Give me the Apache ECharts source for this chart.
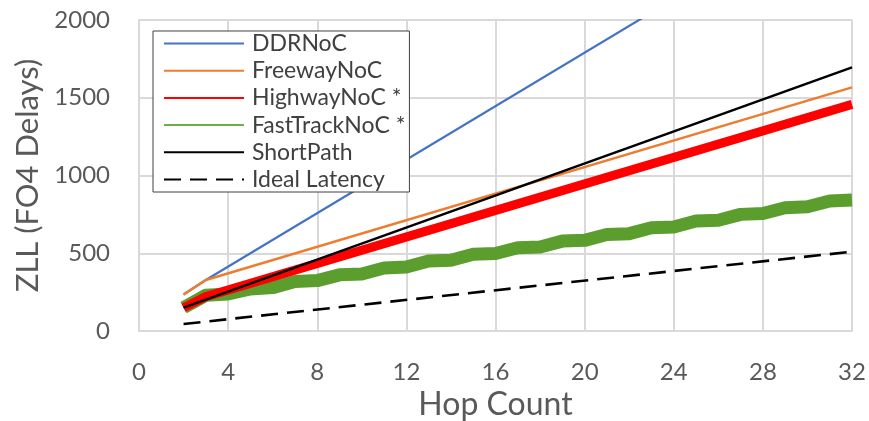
<!DOCTYPE html>
<html>
<head>
<meta charset="utf-8">
<script src="https://cdn.jsdelivr.net/npm/echarts@6/dist/echarts.min.js"></script>
<style>
html,body{margin:0;padding:0;background:#fff;}
#chart{width:869px;height:421px;}
</style>
</head>
<body>
<div id="chart"></div>
<script>
// ---- data ----
var seriesNames = ['DDRNoC', 'FreewayNoC', 'HighwayNoC *', 'FastTrackNoC *', 'ShortPath', 'Ideal Latency'];

var ddrHops = [2, 3, 32];
var ddrZLL = [235, 328, 2822];

var freewayHops = [2, 3, 32];
var freewayZLL = [235, 328, 1567];

var highwayHops = [2, 3, 32];
var highwayZLL = [150, 221, 1457];

var fastTrackHops = [2, 3, 4, 5, 6, 7, 8, 9, 10, 11, 12, 13, 14, 15, 16, 17, 18, 19, 20, 21, 22, 23, 24, 25, 26, 27, 28, 29, 30, 31, 32];
var fastTrackZLL = [150, 230, 238, 270, 279, 318, 324, 361, 367, 405, 411, 450, 455, 493, 498, 535, 540, 578, 583, 621, 626, 664, 669, 707, 712, 750, 756, 793, 799, 836, 842];

var shortPathHops = [2, 32];
var shortPathZLL = [150, 1695];

var idealHops = [2, 32];
var idealZLL = [45, 510];

var xTicks = [0, 4, 8, 12, 16, 20, 24, 28, 32];
var yTicks = [0, 500, 1000, 1500, 2000];

function pairs(h, v) { return h.map(function (x, i) { return [x, v[i]]; }); }

var FONT = 'Lato, "Open Sans", sans-serif';
var chart = echarts.init(document.getElementById('chart'));

var gridColor = '#d9d9d9';

chart.setOption({
  animation: false,
  backgroundColor: '#ffffff',
  grid: { left: 139, right: 17, top: 20, bottom: 90, containLabel: false, outerBoundsMode: 'none' },
  xAxis: {
    type: 'value',
    min: xTicks[0], max: xTicks[xTicks.length - 1], interval: 4,
    name: 'Hop Count', nameLocation: 'middle', nameGap: 53,
    nameTextStyle: { fontFamily: FONT, fontSize: 32, color: '#595959' },
    axisLine: { show: true, lineStyle: { color: gridColor, width: 2 } },
    axisTick: { show: false },
    axisLabel: { fontFamily: FONT, fontSize: 24, color: '#595959', margin: 29,
      formatter: function (v) { return String(v); } },
    splitLine: { show: true, lineStyle: { color: gridColor, width: 2 } }
  },
  yAxis: {
    type: 'value',
    min: yTicks[0], max: yTicks[yTicks.length - 1], interval: 500,
    name: 'ZLL (FO4 Delays)', nameLocation: 'middle', nameGap: 96,
    nameTextStyle: { fontFamily: FONT, fontSize: 31, color: '#595959' },
    axisLine: { show: true, lineStyle: { color: gridColor, width: 2 } },
    axisTick: { show: false },
    axisLabel: { fontFamily: FONT, fontSize: 24, color: '#595959', margin: 29,
      formatter: function (v) { return String(v); } },
    splitLine: { show: true, lineStyle: { color: gridColor, width: 2 } }
  },
  legend: {
    orient: 'vertical',
    left: 153, top: 31,
    padding: [1, 4, 1, 10],
    backgroundColor: '#ffffff',
    borderColor: '#404040', borderWidth: 1,
    itemWidth: 80, itemHeight: 14, itemGap: 4.2,
    itemStyle: { opacity: 0 },
    lineStyle: { width: 2 },
    textStyle: { fontFamily: FONT, fontSize: 23, color: '#404040', padding: [0, 0, 0, 3] },
    data: seriesNames.map(function (n) {
      if (n === 'FastTrackNoC *') return { name: n, lineStyle: { color: '#70ad47', width: 2 } };
      return { name: n };
    })
  },
  series: [
    { name: seriesNames[0], type: 'line', z: 2, data: pairs(ddrHops, ddrZLL), symbol: 'none', clip: true,
      lineStyle: { color: '#4472c4', width: 2.2, join: 'round' }, itemStyle: { color: '#4472c4' } },
    { name: seriesNames[1], type: 'line', z: 2, data: pairs(freewayHops, freewayZLL), symbol: 'none',
      lineStyle: { color: '#ed7d31', width: 2.5, join: 'round' }, itemStyle: { color: '#ed7d31' } },
    { name: seriesNames[2], type: 'line', z: 4, data: pairs(highwayHops, highwayZLL), symbol: 'none',
      lineStyle: { color: '#ff0000', width: 9, join: 'round', cap: 'butt' }, itemStyle: { color: '#ff0000' } },
    { name: seriesNames[3], type: 'line', z: 3, data: pairs(fastTrackHops, fastTrackZLL), symbol: 'none',
      lineStyle: { color: '#5b9e2e', width: 13, join: 'round', cap: 'butt' }, itemStyle: { color: '#5b9e2e' } },
    { name: seriesNames[4], type: 'line', z: 5, data: pairs(shortPathHops, shortPathZLL), symbol: 'none',
      lineStyle: { color: '#000000', width: 2.5 }, itemStyle: { color: '#000000' } },
    { name: seriesNames[5], type: 'line', z: 5, data: pairs(idealHops, idealZLL), symbol: 'none',
      lineStyle: { color: '#000000', width: 2.6, type: [17, 9] }, itemStyle: { color: '#000000' } }
  ]
});
</script>
</body>
</html>
